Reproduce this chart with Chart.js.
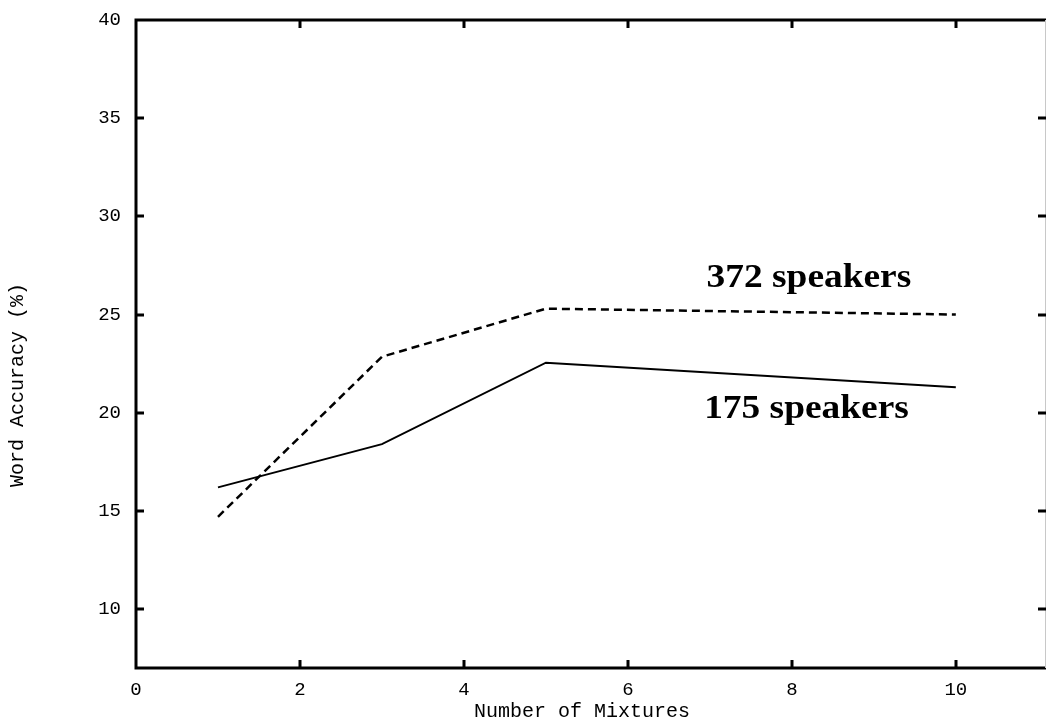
<!DOCTYPE html>
<html>
<head>
<meta charset="utf-8">
<script src="https://cdn.jsdelivr.net/npm/chart.js@4/dist/chart.umd.min.js"></script>
<style>
  html, body { margin: 0; padding: 0; background: #ffffff; }
  #wrap { width: 1047px; height: 724px; }
</style>
</head>
<body>
<div id="wrap"><canvas id="chart" width="1047" height="724"></canvas></div>
<script>
// Number of Gaussian mixtures per state
const mixtures = [1, 3, 5, 10];
// Word accuracy (%) for each training-set size
const acc372 = [14.7, 22.85, 25.3, 25.0];
const acc175 = [16.2, 18.4, 22.55, 21.3];
// Axis tick values
const xTickValues = [0, 2, 4, 6, 8, 10];
const yTickValues = [10, 15, 20, 25, 30, 35, 40];
// Series names, written next to their curves
const seriesNames = ['372 speakers', '175 speakers'];
// Axis titles
const xTitle = 'Number of Mixtures';
const yTitle = 'Word Accuracy (%)';

const monoFont = "'Courier New', 'Liberation Mono', monospace";
const serifFont = "'Liberation Serif', 'Times New Roman', serif";

const toPoints = ys => mixtures.map((x, i) => ({ x: x, y: ys[i] }));

// Frame with inward tick marks on all four sides, axis titles and curve labels
const framePlugin = {
  id: 'frame',
  afterDraw(chart) {
    const { ctx, chartArea: a, scales } = chart;
    const xs = scales.x, ys = scales.y;
    ctx.save();
    ctx.strokeStyle = '#000';
    ctx.lineCap = 'butt';
    // main borders
    ctx.lineWidth = 3;
    ctx.beginPath();
    ctx.moveTo(a.left, a.top); ctx.lineTo(a.right, a.top);
    ctx.moveTo(a.left, a.top - 1.5); ctx.lineTo(a.left, a.bottom + 1.5);
    ctx.moveTo(a.left, a.bottom); ctx.lineTo(a.right, a.bottom);
    ctx.stroke();
    ctx.lineWidth = 1;
    ctx.strokeStyle = '#c8c8c8';
    ctx.beginPath();
    ctx.moveTo(a.right - 0.5, a.top); ctx.lineTo(a.right - 0.5, a.bottom);
    ctx.stroke();
    // tick marks pointing into the plot
    ctx.strokeStyle = '#000';
    ctx.lineWidth = 3;
    const tl = 8;
    ctx.beginPath();
    xTickValues.forEach(v => {
      if (v === xs.min) return;
      const px = Math.round(xs.getPixelForValue(v));
      ctx.moveTo(px, a.bottom); ctx.lineTo(px, a.bottom - tl);
      ctx.moveTo(px, a.top); ctx.lineTo(px, a.top + tl);
    });
    yTickValues.forEach(v => {
      if (v === ys.max) return;
      const py = Math.round(ys.getPixelForValue(v));
      ctx.moveTo(a.left, py); ctx.lineTo(a.left + tl, py);
      ctx.moveTo(a.right, py); ctx.lineTo(a.right - tl, py);
    });
    ctx.stroke();

    // axis titles
    ctx.fillStyle = '#000';
    ctx.font = '20px ' + monoFont;
    ctx.textAlign = 'center';
    ctx.textBaseline = 'middle';
    ctx.fillText(xTitle, a.left + 446, a.bottom + 44);
    ctx.save();
    ctx.translate(18, a.top + 365);
    ctx.rotate(-Math.PI / 2);
    ctx.fillText(yTitle, 0, 0);
    ctx.restore();

    // curve labels
    const labels = chart.options.plugins.frame.labels;
    ctx.font = 'bold 34px ' + serifFont;
    ctx.textAlign = 'left';
    ctx.textBaseline = 'alphabetic';
    labels.forEach(l => {
      const px = xs.getPixelForValue(l.x);
      const py = ys.getPixelForValue(l.y);
      ctx.save();
      ctx.translate(px, py);
      ctx.scale(1.1, 1);
      ctx.fillText(l.text, 0, 0);
      ctx.restore();
    });
    ctx.restore();
  }
};

new Chart(document.getElementById('chart'), {
  type: 'line',
  data: {
    datasets: [
      {
        label: seriesNames[0],
        data: toPoints(acc372),
        borderColor: '#000',
        borderWidth: 2.5,
        borderDash: [8, 5],
        pointRadius: 0,
        fill: false,
        tension: 0
      },
      {
        label: seriesNames[1],
        data: toPoints(acc175),
        borderColor: '#000',
        borderWidth: 2,
        pointRadius: 0,
        fill: false,
        tension: 0
      }
    ]
  },
  options: {
    responsive: false,
    animation: false,
    devicePixelRatio: 1,
    layout: { padding: { top: 20, right: 1, bottom: 0, left: 0 } },
    plugins: {
      legend: { display: false },
      tooltip: { enabled: false },
      frame: {
        labels: [
          { text: seriesNames[0], x: 6.96, y: 26.4 },
          { text: seriesNames[1], x: 6.93, y: 19.75 }
        ]
      }
    },
    scales: {
      x: {
        type: 'linear',
        min: 0,
        max: 11.1,
        afterBuildTicks: s => { s.ticks = xTickValues.map(v => ({ value: v })); },
        afterFit: s => { s.height = 56; s.paddingLeft = 0; s.paddingRight = 0; },
        grid: { display: false, drawTicks: false },
        border: { display: false },
        ticks: {
          padding: 11,
          color: '#000',
          maxRotation: 0,
          font: { family: monoFont, size: 19 }
        },
        title: { display: false }
      },
      y: {
        type: 'linear',
        min: 7,
        max: 40,
        afterBuildTicks: s => { s.ticks = yTickValues.map(v => ({ value: v })); },
        afterFit: s => { s.width = 136; s.paddingTop = 0; s.paddingBottom = 0; },
        grid: { display: false, drawTicks: false },
        border: { display: false },
        ticks: {
          padding: 15,
          color: '#000',
          font: { family: monoFont, size: 19 }
        },
        title: { display: false }
      }
    }
  },
  plugins: [framePlugin]
});
</script>
</body>
</html>
